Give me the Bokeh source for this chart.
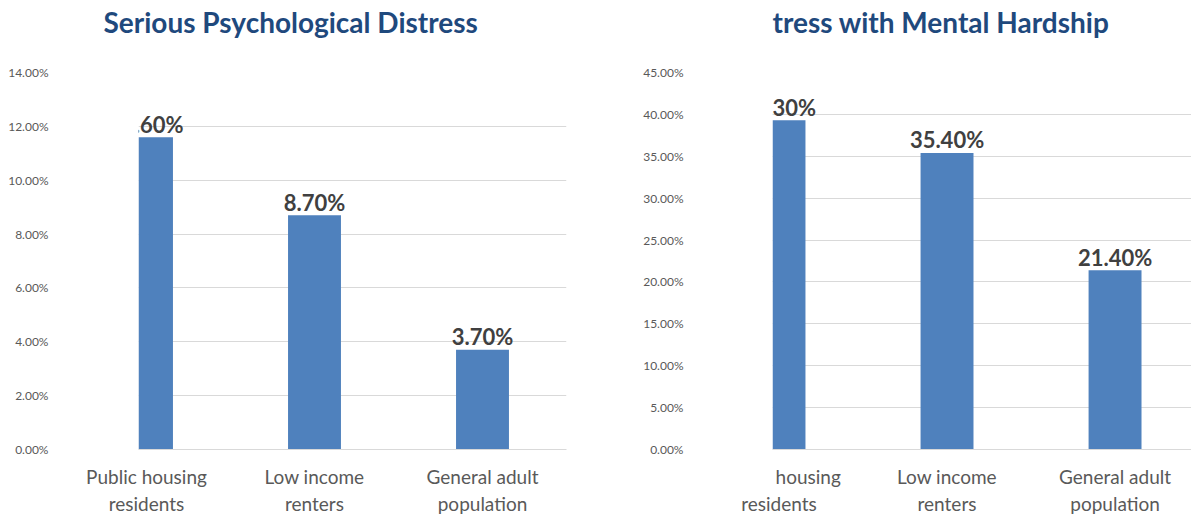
from bokeh.plotting import figure
from bokeh.layouts import row
from bokeh.models import FixedTicker, NumeralTickFormatter, Range1d, ColumnDataSource
from bokeh.core.properties import value
from bokeh.embed import file_html
from bokeh.resources import INLINE

# ---- data ----
categories = ["Public housing residents", "Low income renters", "General adult population"]
left_title = "Serious Psychological Distress"
left_values = [0.116, 0.087, 0.037]
left_ticks = [0.0, 0.02, 0.04, 0.06, 0.08, 0.10, 0.12, 0.14]

right_title = "tress with Mental Hardship"
right_values = [0.393, 0.354, 0.214]
right_ticks = [0.0, 0.05, 0.10, 0.15, 0.20, 0.25, 0.30, 0.35, 0.40, 0.45]

left_xlabels = ["Public housing\nresidents", "Low income\nrenters", "General adult\npopulation"]
right_xlabels = ["\u00a0" * 12 + "housing\nresidents", "Low income\nrenters", "General adult\npopulation"]

BAR = "#4F81BD"
GRID = "#D9D9D9"
AXIS_TXT = "#595959"
LBL_TXT = "#404040"
TITLE_COL = "#1F497D"
FONT = "Lato"
H = 518


def make_panel(title, values, ticks, xlabels, width, border_left, border_right,
               x_start, x_end, title_offset, standoff):
    xs = list(range(len(values)))
    src = ColumnDataSource(dict(x=xs, top=values, lab=[f"{v:.2%}" for v in values]))
    p = figure(width=width, height=H, output_backend="svg", toolbar_location=None,
               x_range=Range1d(x_start, x_end), y_range=Range1d(ticks[0], ticks[-1]),
               min_border_left=border_left, min_border_right=border_right,
               min_border_top=72, min_border_bottom=65, title=title + "\n")
    p.title.text_font = FONT
    p.title.text_font_size = "28px"
    p.title.text_font_style = "bold"
    p.title.text_color = TITLE_COL
    p.title.align = "left"
    p.title.offset = title_offset
    p.title.standoff = 0
    p.outline_line_color = None
    p.background_fill_color = "white"
    p.border_fill_color = "white"

    p.vbar(x="x", top="top", width=0.315, bottom=0, source=src,
           fill_color=BAR, line_color=None)
    p.text(x="x", y="top", text="lab", source=src, text_font=value(FONT),
           text_font_style="bold", text_font_size="22px", text_color=LBL_TXT,
           text_align="center", text_baseline="alphabetic", y_offset=-13)

    # y axis
    yax = p.yaxis[0]
    yax.ticker = FixedTicker(ticks=ticks)
    yax.formatter = NumeralTickFormatter(format="0.00%")
    yax.axis_line_color = None
    yax.major_tick_line_color = None
    yax.minor_tick_line_color = None
    yax.major_tick_out = 0
    yax.major_tick_in = 0
    yax.major_label_text_font = FONT
    yax.major_label_text_font_size = "12px"
    yax.major_label_text_color = AXIS_TXT
    yax.major_label_standoff = standoff

    # x axis
    xax = p.xaxis[0]
    xax.ticker = FixedTicker(ticks=xs)
    xax.major_label_overrides = {i: lab for i, lab in zip(xs, xlabels)}
    xax.axis_line_color = GRID
    xax.major_tick_line_color = None
    xax.minor_tick_line_color = None
    xax.major_tick_out = 0
    xax.major_tick_in = 0
    xax.major_label_text_font = FONT
    xax.major_label_text_font_size = "19px"
    xax.major_label_text_color = AXIS_TXT
    xax.major_label_standoff = 15

    p.xgrid.grid_line_color = None
    p.ygrid.grid_line_color = GRID
    p.ygrid.grid_line_width = 1
    p.ygrid.ticker = FixedTicker(ticks=ticks)
    return p


p1 = make_panel(left_title, left_values, left_ticks, left_xlabels, 600, 138, 34,
                -0.0476, 2.5, -35, 90)
p2 = make_panel(right_title, right_values, right_ticks, right_xlabels, 591, 172, 0,
                -0.0387, 2.455, 0, 89)

layout = row(p1, p2)
open("out.html", "w").write(file_html(layout, INLINE))
